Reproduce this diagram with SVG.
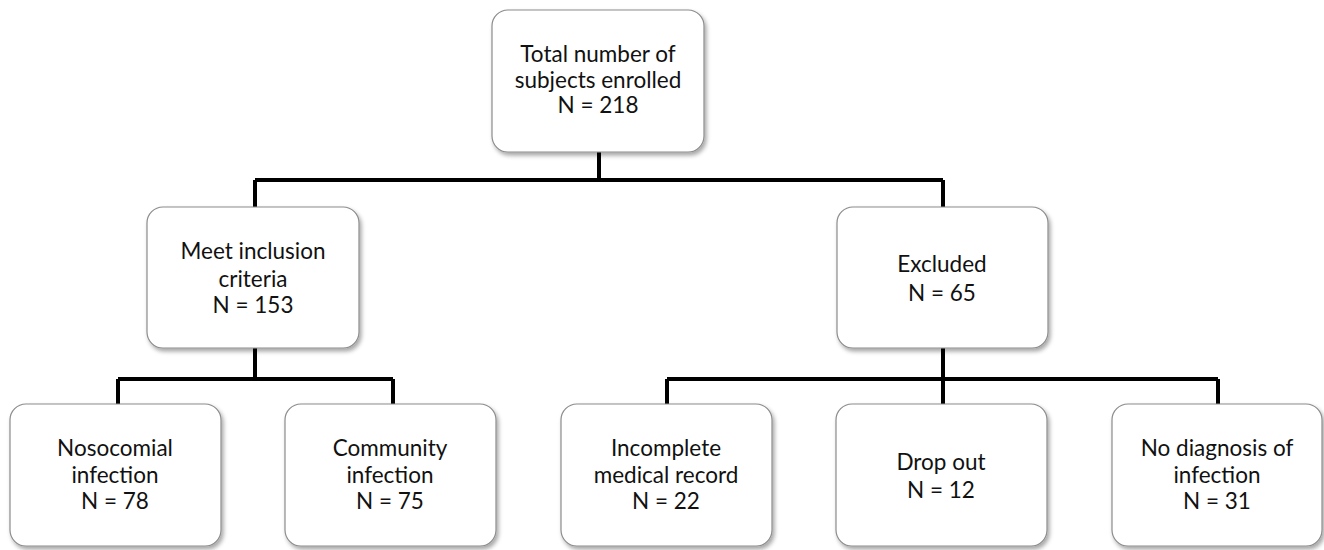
<svg xmlns="http://www.w3.org/2000/svg" width="1324" height="550" viewBox="0 0 1324 550">
<defs>
<filter id="sh" x="-10%" y="-10%" width="130%" height="130%">
<feDropShadow dx="2" dy="3" stdDeviation="2" flood-color="#000" flood-opacity="0.35"/>
</filter>
<style>
.box{fill:#fff;stroke:#8c8c8c;stroke-width:1.2;filter:url(#sh)}
.t{font-family:Lato,"Open Sans","Liberation Sans",sans-serif;font-size:22.5px;fill:#111;text-anchor:middle}
.c{fill:none;stroke:#000;stroke-width:4}
</style>
</defs>
<rect width="1324" height="550" fill="#fff"/>
<g id="connectors">
<path class="c" d="M599 152V180M255 180H943M255 180V207M943 180V207"/>
<path class="c" d="M255 348V379M118 379H393M118 379V404M393 379V404"/>
<path class="c" d="M943 348V379M667 379H1218M667 379V404M943 379V404M1218 379V404"/>
</g>
<g id="total"><rect class="box" x="492" y="10" width="212" height="142" rx="16"/>
<text class="t" x="598" y="62">Total number of</text><text class="t" x="598" y="88">subjects enrolled</text><text class="t" x="598" y="113">N = 218</text></g>
<g id="meet"><rect class="box" x="147" y="207" width="212" height="141" rx="16"/>
<text class="t" x="253" y="259">Meet inclusion</text><text class="t" x="253" y="287">criteria</text><text class="t" x="253" y="313">N = 153</text></g>
<g id="excluded"><rect class="box" x="837" y="207" width="211" height="141" rx="16"/>
<text class="t" x="942" y="272">Excluded</text><text class="t" x="942" y="301">N = 65</text></g>
<g id="nosocomial"><rect class="box" x="10" y="404" width="211" height="142" rx="16"/>
<text class="t" x="115" y="456">Nosocomial</text><text class="t" x="115" y="483">infection</text><text class="t" x="115" y="509">N = 78</text></g>
<g id="community"><rect class="box" x="285" y="404" width="211" height="142" rx="16"/>
<text class="t" x="390" y="456">Community</text><text class="t" x="390" y="483">infection</text><text class="t" x="390" y="509">N = 75</text></g>
<g id="incomplete"><rect class="box" x="561" y="404" width="211" height="142" rx="16"/>
<text class="t" x="666" y="456">Incomplete</text><text class="t" x="666" y="483">medical record</text><text class="t" x="666" y="509">N = 22</text></g>
<g id="dropout"><rect class="box" x="836" y="404" width="211" height="142" rx="16"/>
<text class="t" x="941" y="470">Drop out</text><text class="t" x="941" y="498">N = 12</text></g>
<g id="nodiagnosis"><rect class="box" x="1112" y="404" width="210" height="142" rx="16"/>
<text class="t" x="1217" y="456">No diagnosis of</text><text class="t" x="1217" y="483">infection</text><text class="t" x="1217" y="509">N = 31</text></g>
</svg>
